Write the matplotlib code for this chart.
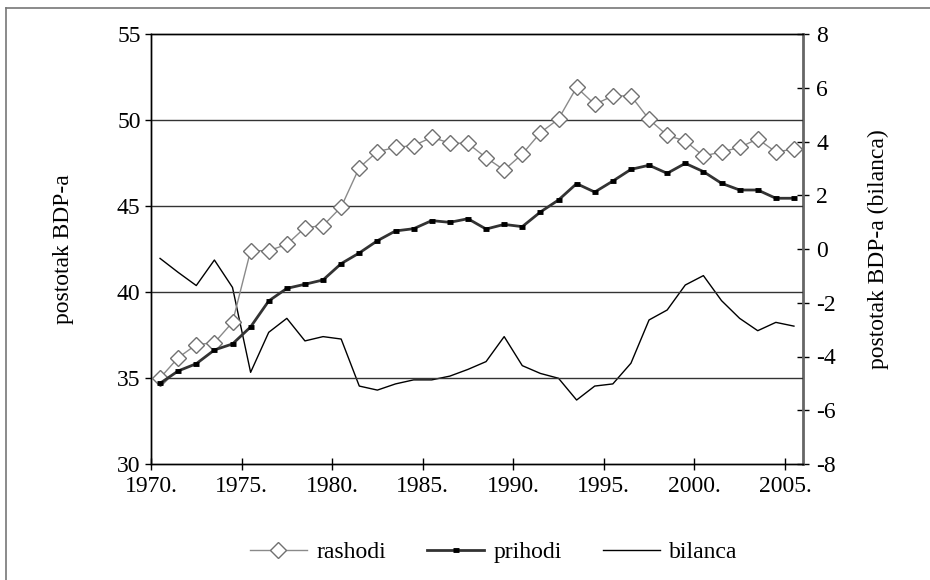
import matplotlib
matplotlib.use("Agg")
import matplotlib.pyplot as plt
from matplotlib.lines import Line2D
import numpy as np

years = list(range(1970, 2006))
rashodi = [35.0, 36.18, 36.94, 37.05, 38.24, 42.4, 42.4, 42.77, 43.74, 43.86,
           44.94, 47.23, 48.16, 48.41, 48.51, 48.99, 48.66, 48.64, 47.81, 47.09,
           48.02, 49.26, 50.06, 51.9, 50.91, 51.4, 51.4, 50.04, 49.11, 48.78,
           47.91, 48.14, 48.41, 48.9, 48.14, 48.31]
prihodi = [34.69, 35.41, 35.83, 36.63, 36.98, 37.97, 39.48, 40.21, 40.45, 40.7,
           41.65, 42.27, 42.98, 43.55, 43.68, 44.15, 44.05, 44.26, 43.66, 43.93,
           43.8, 44.65, 45.35, 46.3, 45.81, 46.45, 47.13, 47.37, 46.9, 47.48,
           47.0, 46.32, 45.93, 45.93, 45.45, 45.45]
bilanca = [-0.35, -0.87, -1.36, -0.41, -1.43, -4.59, -3.1, -2.58, -3.42, -3.26,
           -3.35, -5.1, -5.25, -5.02, -4.87, -4.87, -4.73, -4.48, -4.19, -3.26,
           -4.34, -4.63, -4.81, -5.62, -5.1, -5.02, -4.25, -2.64, -2.27, -1.34,
           -0.99, -1.92, -2.58, -3.04, -2.73, -2.87]
xtick_years = [1970, 1975, 1980, 1985, 1990, 1995, 2000, 2005]
xtick_labels = [f"{y}." for y in xtick_years]
left_ticks = [30, 35, 40, 45, 50, 55]
right_ticks = [-8, -6, -4, -2, 0, 2, 4, 6, 8]

plt.rcParams['font.family'] = ['Liberation Serif', 'DejaVu Serif']
plt.rcParams['axes.unicode_minus'] = False
FS = 17

W, H = 930, 580
fig = plt.figure(figsize=(W / 100, H / 100), dpi=100)
ax = fig.add_axes([151 / W, 1 - 464 / H, (803 - 151) / W, (464 - 34) / H])
ax2 = ax.twinx()

x = np.array(years) + 0.5

for g in [35, 40, 45, 50]:
    ax.axhline(g, color='#333333', lw=1.0, zorder=1)

l1, = ax.plot(x, rashodi, color='#8a8a8a', lw=1.0, marker='D', markersize=8.5,
              markerfacecolor='white', markeredgecolor='#707070', markeredgewidth=1.0,
              zorder=3, label='rashodi')
l2, = ax.plot(x, prihodi, color='#333333', lw=2.0, marker='_', markersize=5,
              markeredgewidth=3.5, markeredgecolor='black', zorder=4, label='prihodi')
l3, = ax2.plot(x, bilanca, color='black', lw=1.0, zorder=3, label='bilanca')

ax.set_xlim(1970, 2006)
ax.set_ylim(30, 55)
ax2.set_ylim(-8, 8)
ax.set_xticks(xtick_years)
ax.set_xticklabels(xtick_labels)
ax.set_yticks(left_ticks)
ax2.set_yticks(right_ticks)

ax.tick_params(axis='x', direction='inout', length=9, width=1, labelsize=FS, pad=4)
ax.tick_params(axis='y', direction='out', length=4.5, width=1, labelsize=FS, pad=3)
ax2.tick_params(axis='y', direction='inout', length=9, width=1, labelsize=FS, pad=5)

for a in (ax, ax2):
    for s in ['left', 'bottom', 'top']:
        a.spines[s].set_color('black')
        a.spines[s].set_linewidth(1.0)
ax2.spines['right'].set_color('#666666')
ax2.spines['right'].set_linewidth(2.0)
ax.spines['right'].set_visible(False)

ax.set_ylabel('postotak BDP-a', fontsize=FS)
ax2.set_ylabel('postotak BDP-a (bilanca)', fontsize=FS)
ax.yaxis.set_label_coords(-0.118, 0.5)
ax2.yaxis.set_label_coords(1.100, 0.5)

ax.set_zorder(ax2.get_zorder() + 1)
ax.patch.set_visible(False)

fig.legend(handles=[l1, l2, l3], loc='center', bbox_to_anchor=(0.531, 1 - 552 / H),
           ncol=3, frameon=False, fontsize=FS, handlelength=2.4, handletextpad=0.4,
           columnspacing=1.75)

fig.add_artist(Line2D([6 / W, 6 / W], [0, 1 - 8 / H], color='#777777', lw=1.2,
                      transform=fig.transFigure))
fig.add_artist(Line2D([6 / W, 1], [1 - 8 / H, 1 - 8 / H], color='#777777', lw=1.2,
                      transform=fig.transFigure))

fig.savefig('out.png', dpi=100)
